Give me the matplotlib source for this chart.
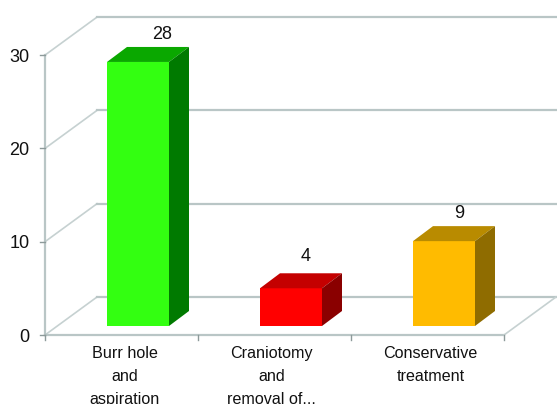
import matplotlib
matplotlib.use("Agg")
import matplotlib.pyplot as plt

categories = ["Burr hole\nand\naspiration", "Craniotomy\nand\nremoval of...", "Conservative\ntreatment"]
values = [28, 4, 9]
y_ticks = [0, 10, 20, 30]
front_colors = ["#33ff11", "#ff0000", "#ffbb00"]
top_colors = ["#0aa800", "#c40000", "#b98b00"]
side_colors = ["#007a00", "#8a0000", "#8f6c00"]

GRID = "#b9c6c6"
W, H = 557, 404
PX_X = 153.0   # one category, in pixels
PX_Y = 9.33    # one value unit, in pixels
X0, Y0 = 45, 335

plt.rcParams["font.family"] = ["Liberation Sans", "DejaVu Sans"]
fig = plt.figure(figsize=(W / 100, H / 100), dpi=100)
ax = fig.add_axes([0, 0, 1, 1])
ax.set_xlim(-X0 / PX_X - 0.5, (W - X0) / PX_X - 0.5)
ax.set_ylim((Y0 - H) / PX_Y, Y0 / PX_Y)
ax.axis("off")

# oblique depth of the floor and of the bars, in data units
floor_dx, floor_dy = 52 / PX_X, 38 / PX_Y
bar_dx, bar_dy = 20 / PX_X, 15 / PX_Y
half_w = 31 / PX_X
bar_shift = 16.5 / PX_X
bar_base = 9 / PX_Y
bar_scale = 9.43 / PX_Y

# nudges for the text, in pixels
value_nudge = [4, -5, -5]
value_lift = [4, 8, 4]
label_nudge = [3.5, -3, 3]

# walls and floor
left, right = -0.5, len(categories) - 0.5
for v in y_ticks:
    ax.plot([left, left + floor_dx], [v, v + floor_dy], color="#c6d1d1", lw=1.2, zorder=1)
    ax.plot([left + floor_dx, right + floor_dx + 0.1], [v + floor_dy] * 2, color=GRID, lw=1.6, zorder=1)
    ax.plot([left - 5 / PX_X, left], [v, v], color="#8d9a9a", lw=1.0, zorder=2)
    ax.text(left - 15.5 / PX_X, v - 2 / PX_Y, str(v), ha="right", va="center", fontsize=13, color="#111111")
ax.plot([left, left], [0, y_ticks[-1]], color=GRID, lw=1.6, zorder=1)
ax.plot([left, right], [0, 0], color=GRID, lw=1.6, zorder=1)
ax.plot([right, right + floor_dx], [0, floor_dy], color="#c6d1d1", lw=1.2, zorder=1)
for i in range(len(categories) + 1):
    ax.plot([left + i, left + i], [0, -5 / PX_Y], color="#8d9a9a", lw=1.0, zorder=2)

# oblique bars
for i, v in enumerate(values):
    x0 = i + bar_shift - half_w
    x1 = i + bar_shift + half_w
    y0 = bar_base
    y1 = bar_base + v * bar_scale
    ax.fill([x0, x1, x1, x0], [y0, y0, y1, y1], color=front_colors[i], lw=0, zorder=3)
    ax.fill([x0, x1, x1 + bar_dx, x0 + bar_dx], [y1, y1, y1 + bar_dy, y1 + bar_dy],
            color=top_colors[i], lw=0, zorder=3)
    ax.fill([x1, x1 + bar_dx, x1 + bar_dx, x1], [y0, y0 + bar_dy, y1 + bar_dy, y1],
            color=side_colors[i], lw=0, zorder=3)
    ax.text(i + bar_shift + bar_dx + value_nudge[i] / PX_X, y1 + bar_dy + value_lift[i] / PX_Y,
            str(v), ha="center", va="bottom", fontsize=13, color="#111111")

# category labels, the last line runs off the bottom edge
for i, label in enumerate(categories):
    ax.text(i + label_nudge[i] / PX_X, -11 / PX_Y, label, ha="center", va="top", fontsize=11.6,
            color="#111111", linespacing=1.68)

fig.savefig("out.png", dpi=100)
